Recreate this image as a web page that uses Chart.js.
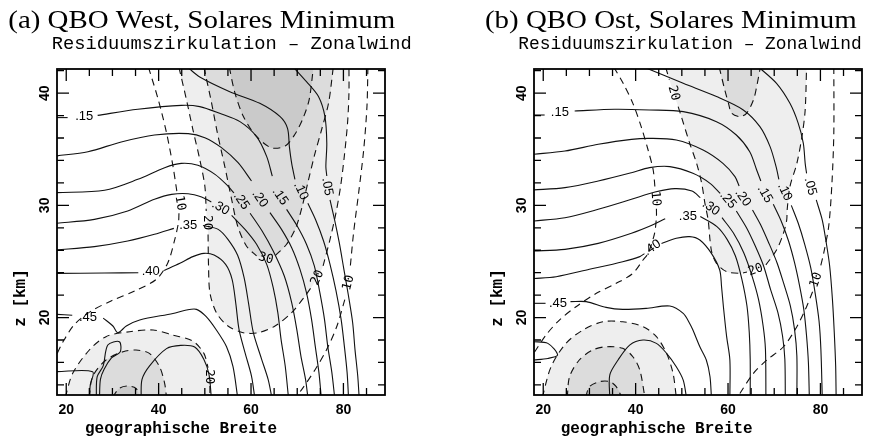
<!DOCTYPE html>
<html><head><meta charset="utf-8">
<script src="https://cdn.jsdelivr.net/npm/chart.js@4.4.1/dist/chart.umd.min.js"></script>
<style>
html,body{margin:0;padding:0;background:#fff;overflow:hidden}
#wrap{position:relative;width:893px;height:441px;background:#fff}
canvas{position:absolute;top:0}
</style></head><body>
<div id="wrap">
<canvas id="ca" width="446" height="441" style="left:0;width:446px;height:441px"></canvas>
<canvas id="cb" width="447" height="441" style="left:446px;width:447px;height:441px"></canvas>
</div>
<script>
// ---- axes ----
const latMin = 18, latMax = 89, zMin = 13.1, zMax = 42.15;
const xTicks = [20,25,30,35,40,45,50,55,60,65,70,75,80,85];
const xTickLabels = [20,40,60,80];
const yTicks = [14,16,18,20,22,24,26,28,30,32,34,36,38,40,42];
const yTickLabels = [20,30,40];

// ---- panel (a): residual circulation (solid), [lat, z]; null = label gap ----
const a_s05=[[69.2,42.3],[72.0,41.02],[74.6,39.69],[76.0,37.9],[76.4,35.53],[76.2,33.45],[76.4,32.62],null,[77.1,30.48],[78.1,28.69],[79.1,26.67],[80.1,24.3],[81.1,21.92],[82.0,19.54],[82.5,17.17],[83.1,14.79],[83.4,12.9]];
const a_s10=[[46.3,42.3],[48.9,41.44],[55.4,40.13],[61.9,39.09],[66.3,37.9],[67.9,36.86],[68.3,35.23],[68.8,33.74],[69.5,32.32],null,[72.3,30.18],[74.0,28.69],[75.7,26.82],[77.1,24.74],[78.4,22.37],[79.5,19.84],[80.2,17.46],[80.8,15.09],[81.1,12.9]];
const a_s15=[[17.8,37.82],[20.3,37.82],null,[26.8,38.02],[35.5,38.56],[44.9,38.91],[48.9,38.8],[53.2,38.2],[57.6,37.46],[61.2,36.12],[63.4,34.34],[64.6,32.6],null,[67.7,29.64],[69.9,28.22],[72.0,26.53],[73.7,24.6],[74.9,22.22],[75.9,19.84],[76.6,17.46],[77.5,15.09],[78.1,12.9]];
const a_s20=[[17.8,34.4],[24.7,34.78],[31.9,35.65],[39.1,36.27],[46.4,36.39],[50.0,36.03],[53.6,35.14],[57.2,33.8],[60.1,32.17],null,[64.1,29.35],[66.6,27.86],[68.8,26.23],[70.6,24.3],[72.0,22.22],[73.1,19.84],[73.9,17.46],[74.7,15.09],[75.2,12.9]];
const a_s25=[[17.8,31.13],[28.3,31.34],[35.5,32.32],[41.3,33.36],[44.9,33.74],[48.5,33.57],[52.2,32.76],[55.0,31.72],[56.3,31.1],null,[59.8,29.3],[62.4,27.71],[64.8,25.93],[67.2,23.7],[68.8,21.33],[69.9,18.95],[70.8,16.57],[71.8,14.49],[72.3,12.9]];
const a_s30=[[17.8,28.4],[26.1,28.75],[33.3,29.5],[39.1,30.54],[42.8,30.98],[46.4,31.04],[49.3,30.74],[51.4,30.3],null,[55.8,29.1],[58.7,27.86],[61.2,26.53],[63.4,24.74],[64.8,22.66],[65.8,20.44],[66.5,18.06],[67.4,15.68],[68.1,12.9]];
const a_s35=[[17.8,26.02],[26.1,26.32],[33.3,26.82],[39.1,27.42],[43.3,27.95],null,[49.6,28.2],[52.9,27.86],[55.0,26.97],[57.1,25.55],[58.5,23.55],[59.5,21.18],[60.5,18.65],[62.3,16.28],[63.7,14.49],[64.5,12.9]];
const a_s40=[[17.8,23.94],[28.3,23.97],[35.6,24.0],null,[41.2,24.2],[44.6,24.83],[47.4,25.43],[49.8,25.72],[52.0,25.57],[54.5,24.74],[55.9,23.41],[56.7,21.27],[57.4,18.95],[58.7,16.87],[60.1,14.79],[60.8,12.9]];
const a_s45=[[17.8,20.29],[21.3,20.2],null,[28.0,19.95],[30.1,19.25],[31.2,18.65],[33.0,19.25],[35.9,19.78],[43.1,20.37],[46.0,20.67],[48.2,20.73],[50.3,20.08],[52.5,18.89],[54.7,17.4],[56.1,15.62],[57.1,12.9]];
const a_s50=[[17.8,15.18],[25.7,15.18],[25.2,14.0],[25.0,12.9]];
const a_s50loop=[[26.5,12.9],[26.7,14.73],[28.0,15.7],[29.0,17.55],[31.5,17.85],[31.7,16.96],[29.8,16.4],[28.2,15.4],[27.4,14.5],[27.2,12.9]];
const a_s50arch=[[36.2,12.9],[36.4,14.49],[38.0,15.68],[41.7,17.23],[44.8,17.52],[47.8,17.37],[49.8,16.27],[50.9,14.94],[51.4,12.9]];
// panel (a): zonal wind (dashed)
const a_d10=[[37.8,42.3],[39.9,39.45],[41.7,36.48],[43.1,33.5],[44.0,31.1],null,[44.4,29.3],[44.3,28.5],[43.5,26.97],[42.0,24.89],[39.5,23.41],[34.8,22.37],[29.7,21.48],[25.4,20.58],[21.8,19.4],[19.2,17.76],[17.6,16.4]];
const a_d20=[[44.4,42.3],[46.0,39.45],[47.4,36.78],[48.9,34.1],[50.0,31.72],[50.3,29.5],null,[50.7,27.4],[50.8,24.6],[51.1,22.22],[52.5,20.44],[55.0,19.25],[58.3,18.65],[61.6,18.65],[65.2,19.25],[68.8,20.44],[71.7,21.92],[73.5,22.96],null,[75.6,24.6],[77.1,26.97],[78.4,29.35],[79.4,31.72],[80.2,34.4],[80.9,37.37],[81.2,40.04],[81.2,42.3]];
const a_d30=[[49.8,42.3],[51.3,39.45],[52.7,36.48],[54.3,33.5],[55.8,30.54],[57.1,28.16],[59.0,26.38],[61.2,25.49],null,[65.3,25.55],[67.7,26.53],[69.7,28.01],[71.1,29.94],[72.3,32.02],[73.7,34.4],[75.3,36.78],[76.8,39.15],[77.8,42.3]];
const a_d40=[[55.3,42.3],[56.5,40.04],[58.3,37.96],[60.8,36.33],[64.3,35.14],[67.4,35.29],[69.5,36.33],[71.3,37.81],[72.6,39.45],[73.5,42.3]];
const a_d10r=[[85.3,42.3],[85.1,38.86],[84.4,35.0],[83.3,31.13],[82.2,27.56],[81.5,24.6],null,[80.3,21.6],[78.6,19.25],[76.4,17.17],[73.9,15.38],[71.0,13.6],[69.6,12.9]];
const a_d20b=[[19.8,12.9],[21.4,15.03],[25.0,17.11],[28.6,18.3],[33.7,18.74],[38.8,18.89],[43.1,18.44],[47.4,17.91],[49.8,16.81],[50.7,15.53],null,[51.1,13.9],[51.1,12.9]];
const a_d30b=[[25.0,12.9],[25.7,14.73],[28.6,16.22],[32.3,16.96],[35.1,17.11],[38.0,16.81],[40.2,15.62],[41.3,14.14],[41.7,12.9]];
const a_d40b=[[30.0,12.9],[31.5,13.69],[33.3,13.9],[35.1,13.69],[35.9,12.9]];
const a_labels=[['.15',23.9,37.96,0],['.15',66.3,30.8,55],['.10',70.8,31.28,65],['.05',76.5,31.67,80],['.20',61.9,30.6,55],['.25',57.9,30.39,55],['.30',53.4,29.79,30],['.35',46.4,28.22,0],['.40',38.3,24.09,0],['.45',24.7,19.99,0],
 ['10',44.6,30.2,80],['20',50.5,28.46,90],['30',63.2,25.25,15],['20',74.4,23.55,-65],['10',81.1,23.1,-75],['20',50.9,14.73,90]];

// ---- panel (b) ----
const b_s05=[[66.7,42.3],[70.5,40.87],[73.4,39.09],[75.2,37.31],[76.3,35.53],[76.7,33.74],[77.0,32.85],null,[79.1,30.48],[80.4,28.69],[81.2,26.82],[82.0,24.6],[82.6,21.62],[83.0,18.65],[83.3,15.68],[83.4,12.9]];
const b_s10=[[41.9,42.3],[50.3,40.87],[57.5,39.69],[63.3,38.5],[66.9,37.01],[69.1,35.23],[70.4,33.45],[71.0,32.32],null,[73.7,30.0],[75.2,28.4],[76.6,26.53],[77.9,24.45],[78.9,22.07],[79.7,19.69],[80.1,17.17],[80.4,12.9]];
const b_s15=[[17.8,38.05],[20.3,38.05],null,[26.8,38.41],[35.5,38.56],[43.0,38.5],[50.3,38.35],[57.5,37.46],[61.8,36.27],[64.7,34.78],[66.2,33.15],[67.1,32.17],null,[69.8,30.09],[71.5,28.6],[73.1,26.82],[74.4,24.89],[75.5,22.81],[76.4,20.73],[77.0,18.36],[77.4,15.98],[77.6,12.9]];
const b_s20=[[17.8,34.55],[24.7,34.84],[31.9,35.44],[39.1,35.88],[43.0,35.97],[48.8,35.82],[54.6,34.93],[58.9,33.74],[61.5,32.56],[62.4,31.72],null,[65.3,29.59],[67.0,28.31],[68.8,26.67],[70.6,24.89],[72.0,23.11],[73.5,21.03],[74.4,18.95],[74.9,16.57],[74.9,12.9]];
const b_s25=[[17.8,31.37],[24.7,31.58],[31.9,32.17],[39.1,32.91],[43.0,33.36],[47.4,33.45],[52.4,32.85],[56.1,31.96],[58.3,31.07],null,[61.8,29.5],[64.0,28.01],[65.9,26.38],[67.7,24.6],[69.2,22.51],[70.8,20.44],[71.8,18.36],[72.3,16.28],[72.4,12.9]];
const b_s30=[[17.8,28.6],[24.7,28.9],[31.9,29.65],[39.1,30.54],[44.2,31.19],[48.5,31.49],[52.2,31.28],[54.0,30.69],null,[58.7,28.9],[61.2,27.51],[63.4,25.78],[65.2,23.7],[66.6,21.62],[67.6,19.25],[68.1,17.17],[68.2,12.9]];
const b_s35=[[17.8,25.93],[24.7,26.08],[31.9,26.61],[39.1,27.51],[43.5,28.22],[46.4,28.81],null,[54.0,29.0],[57.6,28.1],[59.8,26.97],[61.6,25.49],[63.0,23.41],[64.1,21.03],[64.6,18.65],[64.8,16.28],[64.8,12.9]];
const b_s40=[[17.8,23.47],[22.8,23.64],[30.0,24.3],[37.2,24.98],[40.9,25.43],[41.9,25.7],null,[45.6,26.6],[48.8,27.06],[51.7,27.21],[53.9,26.91],[56.4,25.72],[58.2,24.24],[58.6,22.75],[59.0,20.97],[59.7,18.3],[60.4,16.22],[60.4,12.9]];
const b_s45=[[17.8,21.27],[20.5,21.27],null,[25.9,21.42],[29.3,21.42],[33.6,20.91],[37.2,20.73],[42.3,20.82],[47.4,21.03],[50.3,20.37],[51.7,19.48],[52.4,18.89],[53.9,17.4],[55.3,16.22],[56.1,14.73],[56.4,12.9]];
const b_s50=[[17.8,17.85],[21.0,17.7],[23.1,16.66],[21.0,16.36],[17.8,16.22]];
const b_s50arch=[[34.4,12.9],[34.4,14.88],[36.2,16.22],[38.7,17.55],[41.6,18.0],[44.5,17.7],[46.7,16.81],[48.8,15.62],[50.3,14.43],[51.0,12.9]];
const b_d10=[[35.3,42.3],[37.3,40.87],[39.4,39.09],[41.2,37.01],[42.7,34.93],[43.8,33.15],[44.2,31.5],null,[44.5,29.7],[44.5,28.99],[44.1,27.51],[42.7,25.72],[41.6,25.13],[39.4,23.94],[35.8,23.05],[31.5,22.16],[27.1,20.97],[23.5,19.78],[20.6,18.44],[17.6,16.6]];
const b_d20=[[46.5,42.3],[47.3,41.2],null,[49.2,38.8],[49.9,37.9],[51.7,35.53],[53.2,33.74],[54.3,31.96],[55.0,30.18],[55.7,28.69],[56.1,26.91],[56.5,25.78],[57.5,24.83],[59.7,24.09],[62.6,23.94],[64.1,24.06],null,[68.2,24.7],[70.5,26.02],[72.0,27.51],[72.7,28.69],[72.8,29.59],[73.4,31.67],[74.9,33.74],[76.0,36.12],[76.7,38.5],[77.0,42.3]];
const b_d30=[[58.1,42.3],[59.3,40.28],[60.1,39.09],[60.8,38.2],[62.6,37.9],[64.0,38.2],[65.5,39.39],[66.2,40.58],[67.0,42.3]];
const b_d10r=[[82.9,42.3],[82.9,36.48],[82.5,32.02],[81.8,28.16],[80.7,25.72],[80.0,24.5],null,[78.3,22.3],[77.0,20.97],[74.9,19.19],[72.0,17.4],[68.4,16.22],[65.5,15.03],[62.6,13.25],[62.2,12.9]];
const b_d20b=[[19.8,12.9],[21.7,15.62],[24.9,17.7],[28.6,18.89],[32.9,19.63],[37.2,19.63],[41.6,19.19],[44.5,18.3],[46.7,16.81],[48.1,15.03],[48.8,12.9]];
const b_d30b=[[25.2,12.9],[25.7,14.73],[27.8,16.22],[30.7,17.11],[33.6,17.4],[37.2,17.26],[39.4,16.51],[40.9,15.33],[42.0,12.9]];
const b_d40b=[[29.2,12.9],[30.0,13.84],[32.2,14.29],[34.4,14.29],[35.8,13.84],[37.0,12.9]];
const b_labels=[['.15',23.6,38.26,0],['.15',68.0,31.0,60],['.10',72.3,31.2,65],['.05',77.8,31.7,75],['.20',63.2,30.69,55],['.25',60.0,30.48,50],['.30',56.3,29.79,35],['.35',51.3,29.05,0],['.40',43.6,26.23,-35],['.45',23.2,21.27,0],
 ['10',44.3,30.6,85],['20',48.2,40.0,75],['20',66.0,24.24,-20],['10',79.1,23.35,-70]];

// ---- styling ----
const LIGHT='#eeeeee', MEDIUM='#dcdcdc', DARK='#cacaca';

function segs(arr){
  const out=[]; let cur=[];
  for(const p of arr){ if(p===null){ if(cur.length) out.push(cur); cur=[]; } else cur.push({x:p[0],y:p[1]}); }
  if(cur.length) out.push(cur);
  return out;
}
function closed(arr, side){
  const pts=arr.filter(p=>p!==null);
  const zc = side==='top' ? 43.5 : 12.0;
  return [{x:pts[0][0],y:zc}, ...pts.map(p=>({x:p[0],y:p[1]})), {x:pts[pts.length-1][0],y:zc}];
}
function fitText(ctx, text, x, y, w, font){
  ctx.font=font; const m=ctx.measureText(text).width;
  ctx.save(); ctx.translate(x,y); ctx.scale(w/m,1); ctx.textAlign='left'; ctx.fillText(text,0,0); ctx.restore();
}

function buildChart(id, P){
  const datasets=[];
  const addLine=(arr,dash)=>segs(arr).forEach(d=>datasets.push({data:d,borderColor:'#111',borderWidth:1.1,borderDash:dash?[7,5]:[],pointRadius:0,tension:0.3,fill:false,order:0}));
  P.solid.forEach(a=>addLine(a,false));
  P.dashed.forEach(a=>addLine(a,true));
  const addFill=(arr,side,col,ord)=>datasets.push({data:closed(arr,side),fill:'shape',backgroundColor:col,borderColor:'rgba(0,0,0,0)',borderWidth:0,pointRadius:0,tension:0.3,order:ord});
  P.fills.forEach(f=>addFill(f[0],f[1],f[2],f[3]));

  const decor={
    id:'decor',
    afterDraw(chart){
      const {ctx, chartArea:a, scales:{x,y}}=chart;
      ctx.save();
      ctx.fillStyle='#000';
      // contour labels
      P.labels.forEach(([t,lat,z,ang])=>{
        const px=x.getPixelForValue(lat), py=y.getPixelForValue(z);
        ctx.save(); ctx.translate(px,py); ctx.rotate(ang*Math.PI/180);
        ctx.font = t.startsWith('.') ? '13px "Liberation Sans"' : '12.5px "DejaVu Sans Mono"';
        ctx.textAlign='center'; ctx.textBaseline='middle'; ctx.fillText(t,0,0); ctx.restore();
      });
      // ticks
      ctx.strokeStyle='#000'; ctx.lineWidth=1.3;
      ctx.beginPath();
      xTicks.forEach(v=>{
        const px=x.getPixelForValue(v); const L=xTickLabels.includes(v)?12:7;
        ctx.moveTo(px,a.top); ctx.lineTo(px,a.top+L);
        ctx.moveTo(px,a.bottom); ctx.lineTo(px,a.bottom-L);
      });
      yTicks.forEach(v=>{
        const py=y.getPixelForValue(v); const L=yTickLabels.includes(v)?12:7;
        ctx.moveTo(a.left,py); ctx.lineTo(a.left+L,py);
        ctx.moveTo(a.right,py); ctx.lineTo(a.right-L,py);
      });
      ctx.stroke();
      ctx.lineWidth=1.8; ctx.strokeRect(a.left,a.top,a.right-a.left,a.bottom-a.top);
      // tick labels
      ctx.font='bold 14px "Liberation Sans"'; ctx.textAlign='center'; ctx.textBaseline='middle';
      xTickLabels.forEach(v=>ctx.fillText(String(v), x.getPixelForValue(v), a.bottom+15));
      yTickLabels.forEach(v=>{ ctx.save(); ctx.translate(a.left-12, y.getPixelForValue(v)); ctx.rotate(-Math.PI/2); ctx.fillText(String(v),0,0); ctx.restore(); });
      // axis titles
      ctx.textBaseline='alphabetic';
      fitText(ctx, P.xTitle.text, P.xTitle.cx-P.xTitle.w/2, P.xTitle.y, P.xTitle.w, 'bold 16px "Liberation Mono"');
      ctx.save(); ctx.translate(P.yTitle.cx, P.yTitle.cy); ctx.rotate(-Math.PI/2);
      ctx.font='bold 16px "Liberation Mono"'; ctx.textAlign='center'; ctx.textBaseline='middle'; ctx.fillText(P.yTitle.text,0,0); ctx.restore();
      // titles
      ctx.textBaseline='alphabetic';
      fitText(ctx, P.title.text, P.title.x, P.title.y, P.title.w, '25px "Liberation Serif"');
      fitText(ctx, P.sub.text, P.sub.x, P.sub.y, P.sub.w, '18px "Liberation Mono"');
      ctx.restore();
    }
  };

  return new Chart(document.getElementById(id),{
    type:'line',
    data:{datasets},
    options:{
      responsive:false, animation:false, devicePixelRatio:1,
      layout:{padding:P.pad},
      plugins:{legend:{display:false},tooltip:{enabled:false},title:{display:false}},
      scales:{
        x:{type:'linear',min:latMin,max:latMax,display:false},
        y:{type:'linear',min:zMin,max:zMax,display:false}
      }
    },
    plugins:[decor]
  });
}

buildChart('ca',{
  pad:{left:57,top:69,right:61,bottom:46},
  solid:[a_s05,a_s10,a_s15,a_s20,a_s25,a_s30,a_s35,a_s40,a_s45,a_s50,a_s50loop,a_s50arch],
  dashed:[a_d10,a_d20,a_d30,a_d40,a_d10r,a_d20b,a_d30b,a_d40b],
  fills:[[a_d20,'top',LIGHT,3],[a_d30,'top',MEDIUM,2],[a_d40,'top',DARK,1],[a_d20b,'bottom',LIGHT,3],[a_d30b,'bottom',MEDIUM,2],[a_d40b,'bottom',DARK,1]],
  labels:a_labels,
  title:{text:'(a) QBO West, Solares Minimum',x:8.3,y:28.3,w:387},
  sub:{text:'Residuumszirkulation – Zonalwind',x:51.7,y:49.3,w:360},
  xTitle:{text:'geographische Breite',cx:181,y:433,w:192},
  yTitle:{text:'z [km]',cx:21,cy:298}
});
buildChart('cb',{
  pad:{left:88,top:69,right:31,bottom:46},
  solid:[b_s05,b_s10,b_s15,b_s20,b_s25,b_s30,b_s35,b_s40,b_s45,b_s50,b_s50arch],
  dashed:[b_d10,b_d20,b_d30,b_d10r,b_d20b,b_d30b,b_d40b],
  fills:[[b_d20,'top',LIGHT,3],[b_d30,'top',MEDIUM,2],[b_d20b,'bottom',LIGHT,3],[b_d30b,'bottom',MEDIUM,2],[b_d40b,'bottom',DARK,1]],
  labels:b_labels,
  title:{text:'(b) QBO Ost, Solares Minimum',x:39,y:28.3,w:371.7},
  sub:{text:'Residuumszirkulation – Zonalwind',x:72.3,y:49.3,w:343.4},
  xTitle:{text:'geographische Breite',cx:210.7,y:433,w:192},
  yTitle:{text:'z [km]',cx:52,cy:298}
});
</script>
</body></html>
